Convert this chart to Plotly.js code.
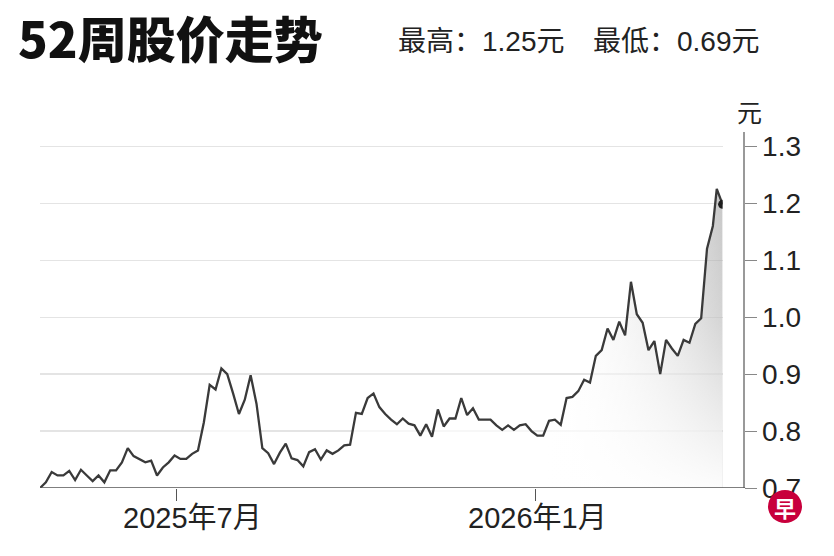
<!DOCTYPE html>
<html>
<head>
<meta charset="utf-8">
<script src="https://cdn.plot.ly/plotly-3.0.1.min.js"></script>
<style>html,body{margin:0;padding:0;background:#fff;}#chart{width:834px;height:556px;}</style>
</head>
<body>
<div id="chart"></div>
<script>
const dates = [
"2025-04-22","2025-04-25","2025-04-28","2025-05-01","2025-05-04","2025-05-07","2025-05-10","2025-05-13","2025-05-16","2025-05-19",
"2025-05-22","2025-05-25","2025-05-28","2025-05-31","2025-06-03","2025-06-06","2025-06-09","2025-06-12","2025-06-15","2025-06-18",
"2025-06-21","2025-06-24","2025-06-27","2025-06-30","2025-07-03","2025-07-06","2025-07-09","2025-07-12","2025-07-15","2025-07-18",
"2025-07-21","2025-07-24","2025-07-27","2025-07-30","2025-08-02","2025-08-05","2025-08-08","2025-08-11","2025-08-14","2025-08-17",
"2025-08-20","2025-08-23","2025-08-26","2025-08-29","2025-09-01","2025-09-04","2025-09-07","2025-09-10","2025-09-13","2025-09-16",
"2025-09-19","2025-09-22","2025-09-25","2025-09-28","2025-10-01","2025-10-04","2025-10-07","2025-10-10","2025-10-13","2025-10-16",
"2025-10-19","2025-10-22","2025-10-25","2025-10-28","2025-10-31","2025-11-03","2025-11-06","2025-11-09","2025-11-12","2025-11-15",
"2025-11-18","2025-11-21","2025-11-24","2025-11-27","2025-11-30","2025-12-03","2025-12-06","2025-12-09","2025-12-12","2025-12-15",
"2025-12-18","2025-12-21","2025-12-24","2025-12-27","2025-12-30","2026-01-02","2026-01-05","2026-01-08","2026-01-11","2026-01-14",
"2026-01-17","2026-01-20","2026-01-23","2026-01-26","2026-01-29","2026-02-01","2026-02-04","2026-02-07","2026-02-10","2026-02-13",
"2026-02-16","2026-02-19","2026-02-22","2026-02-25","2026-02-28","2026-03-03","2026-03-06","2026-03-09","2026-03-12","2026-03-15",
"2026-03-18","2026-03-21","2026-03-24","2026-03-27","2026-03-30","2026-04-02","2026-04-04","2026-04-07"
];
const prices = [
0.700,0.710,0.728,0.722,0.722,0.730,0.714,0.732,0.722,0.712,
0.722,0.710,0.731,0.731,0.745,0.770,0.756,0.750,0.745,0.748,
0.722,0.736,0.745,0.757,0.751,0.751,0.760,0.766,0.815,0.881,
0.873,0.910,0.900,0.866,0.830,0.855,0.898,0.848,0.770,0.761,
0.742,0.762,0.778,0.752,0.749,0.738,0.763,0.768,0.750,0.766,
0.760,0.766,0.775,0.776,0.832,0.830,0.858,0.866,0.842,0.830,
0.820,0.812,0.822,0.813,0.810,0.792,0.812,0.790,0.838,0.808,
0.822,0.822,0.858,0.828,0.840,0.820,0.820,0.820,0.810,0.802,
0.810,0.802,0.810,0.812,0.800,0.792,0.792,0.818,0.820,0.811,
0.858,0.860,0.870,0.890,0.885,0.932,0.942,0.980,0.960,0.992,
0.968,1.062,1.005,0.990,0.942,0.958,0.900,0.960,0.945,0.932,
0.960,0.955,0.988,0.998,1.120,1.160,1.225,1.198
];
const xTickVals = ["2025-07-01","2026-01-01"];
const xLabelDates = ["2025-07-09","2026-01-02"];
const xTickText = ["2025年7月","2026年1月"];
const yTickVals = [0.7,0.8,0.9,1.0,1.1,1.2,1.3];
const yTickText = ["0.7","0.8","0.9","1.0","1.1","1.2","1.3"];
const titleText = "52周股价走势";
const highText = "最高：1.25元";
const lowText = "最低：0.69元";
const unitText = "元";

const last = dates.length - 1;
const traces = [
  { // grey horizontal gradient fill
    x: dates, y: prices, type: "scatter", mode: "lines",
    line: {width: 0, color: "rgba(0,0,0,0)"},
    fill: "tozeroy",
    fillgradient: {type: "horizontal", colorscale: [[0,"rgba(255,255,255,0)"],[0.74,"rgba(255,255,255,0)"],[1,"rgba(140,140,140,0.5)"]]},
    hoverinfo: "skip"
  },
  { // white vertical fade toward the bottom
    x: dates, y: prices, type: "scatter", mode: "lines",
    line: {width: 0, color: "rgba(0,0,0,0)"},
    fill: "tozeroy",
    fillgradient: {type: "vertical", start: 0.7, stop: 1.25,
      colorscale: [[0,"rgba(255,255,255,0.95)"],[0.55,"rgba(255,255,255,0.25)"],[1,"rgba(255,255,255,0)"]]},
    hoverinfo: "skip"
  },
  {
    x: dates, y: prices, type: "scatter", mode: "lines",
    line: {color: "#3a3a3a", width: 2.3},
    hoverinfo: "skip"
  },
  {
    x: [dates[last]], y: [prices[last]], type: "scatter", mode: "markers",
    marker: {color: "#1e1e1e", size: 9}, hoverinfo: "skip"
  }
];

const fontLatin = "Liberation Sans, Arial, Noto Sans CJK SC, sans-serif";
const annotations = [
  {text: highText, xref: "paper", yref: "paper", x: (396-40)/703, y: (488-42)/356,
   xanchor: "left", yanchor: "middle", showarrow: false,
   font: {family: fontLatin, size: 28, color: "#222"}},
  {text: lowText, xref: "paper", yref: "paper", x: (591-40)/703, y: (488-42)/356,
   xanchor: "left", yanchor: "middle", showarrow: false,
   font: {family: fontLatin, size: 28, color: "#222"}},
  {text: unitText, xref: "paper", yref: "paper", x: (749-40)/703, y: (488-111)/356,
   xanchor: "center", yanchor: "middle", showarrow: false,
   font: {family: "Noto Sans CJK SC, sans-serif", size: 25, color: "#222"}},
  {text: "早", xref: "paper", yref: "paper", x: (785-40)/703, y: (488-507)/356,
   xanchor: "center", yanchor: "middle", showarrow: false,
   font: {family: "Noto Sans CJK SC, sans-serif", size: 22, color: "#fff", weight: 700}}
];
xLabelDates.forEach(function (d, i) {
  annotations.push({text: xTickText[i], xref: "x", yref: "paper", x: d, y: (488-518)/356,
    xanchor: "center", yanchor: "middle", showarrow: false,
    font: {family: fontLatin, size: 29, color: "#222"}});
});

const layout = {
  width: 834, height: 556,
  margin: {l: 40, r: 91, t: 132, b: 68},
  paper_bgcolor: "#fff", plot_bgcolor: "#fff",
  showlegend: false, hovermode: false,
  title: {
    text: titleText,
    font: {family: "Noto Sans CJK SC, sans-serif", size: 49, color: "#111", weight: 900},
    x: 18/834, xanchor: "left", xref: "container",
    y: 1 - 41/556, yanchor: "middle", yref: "container"
  },
  xaxis: {
    type: "date",
    domain: [0, 0.971],
    range: [dates[0], dates[last]],
    tickvals: xTickVals, ticktext: ["", ""],
    ticks: "outside", ticklen: 12, tickcolor: "#555", tickwidth: 1,
    showgrid: false, showline: false, zeroline: false,
    fixedrange: true
  },
  yaxis: {
    range: [0.7, 1.325],
    side: "right", anchor: "free", position: 1,
    tickvals: yTickVals, ticktext: yTickText,
    ticks: "outside", ticklen: 12, tickcolor: "#888", tickwidth: 1,
    showline: true, linecolor: "#999", linewidth: 1.5,
    showgrid: true, gridcolor: "#e4e4e4", gridwidth: 1.2,
    zeroline: false,
    tickfont: {family: fontLatin, size: 28, color: "#222"},
    fixedrange: true
  },
  shapes: [
    {type: "line", xref: "paper", yref: "y", x0: 0, x1: 1.003, y0: 0.7, y1: 0.7,
     line: {color: "#555", width: 1.5}},
    {type: "circle", xref: "paper", yref: "paper", layer: "above",
     x0: (768-40)/703, x1: (802-40)/703, y0: (488-523)/356, y1: (488-490)/356,
     fillcolor: "#c8003c", line: {width: 0}}
  ],
  annotations: annotations
};

Plotly.newPlot("chart", traces, layout, {displayModeBar: false, staticPlot: true});
</script>
</body>
</html>
